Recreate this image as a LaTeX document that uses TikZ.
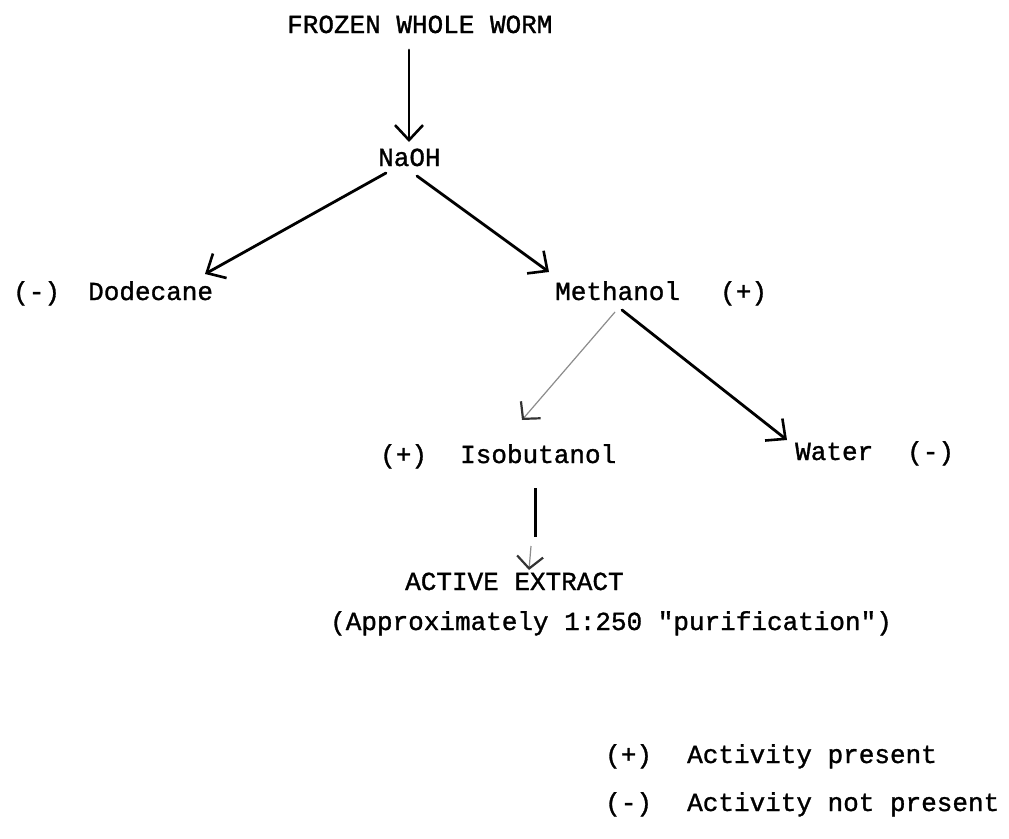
\documentclass[tikz,border=0pt]{standalone}
\usepackage{fontspec}
\newfontfamily\typew{Liberation Mono}[FakeBold=1.2]
\usetikzlibrary{arrows.meta}
\begin{document}
\begin{tikzpicture}[x=1pt,y=-1pt,
  lbl/.style={font=\typew\fontsize{26}{30}\selectfont, anchor=base west, inner sep=0pt},
  arr/.style={line width=2.8pt, line cap=round, -{Straight Barb[length=15pt,width=28pt,line width=2.6pt]}},
  faint/.style={line width=1.2pt, black!45, -{Straight Barb[length=12pt,width=26pt,line width=2.2pt,color=black!80]}},
  bar/.style={line width=3pt}]
\useasboundingbox[fill=white] (0,0) rectangle (1009,838);

% texts
\node[lbl] (title) at (287,33) {FROZEN WHOLE WORM};
\node[lbl] (naoh) at (378,166) {NaOH};
\node[lbl] (dm) at (13,300) {(-)};
\node[lbl] (dode) at (88,300) {Dodecane};
\node[lbl] (meth) at (555,300) {Methanol};
\node[lbl] (mp) at (720,300) {(+)};
\node[lbl] (ip) at (380,463) {(+)};
\node[lbl] (isob) at (460,463) {Isobutanol};
\node[lbl] (water) at (795,460) {Water};
\node[lbl] (wm) at (907,460) {(-)};
\node[lbl] (act) at (405,590) {ACTIVE EXTRACT};
\node[lbl] (appr) at (330,630) {(Approximately 1:250 "purification")};
\node[lbl] (lp) at (605,763) {(+)};
\node[lbl] (lpt) at (687,763) {Activity present};
\node[lbl] (lm) at (605,811) {(-)};
\node[lbl] (lmt) at (687,811) {Activity not present};

% connector end points
\coordinate (t1) at (409,50);
\coordinate (n0) at (409,142);
\coordinate (n1) at (386,173);
\coordinate (d0) at (205,274);
\coordinate (n2) at (417,176);
\coordinate (m0) at (549,272);
\coordinate (m1) at (615,312);
\coordinate (i0) at (522,420);
\coordinate (m2) at (622,310);
\coordinate (w0) at (787,440);
\coordinate (i1) at (535,488);
\coordinate (i2) at (535,537);
\coordinate (i3) at (531,546);
\coordinate (a0) at (529,570);

\draw[arr] (t1) -- (n0);
\draw[arr] (n1) -- (d0);
\draw[arr] (n2) -- (m0);
\draw[faint] (m1) -- (i0);
\draw[arr] (m2) -- (w0);
\draw[bar] (i1) -- (i2);
\draw[faint] (i3) -- (a0);
\end{tikzpicture}
\end{document}
